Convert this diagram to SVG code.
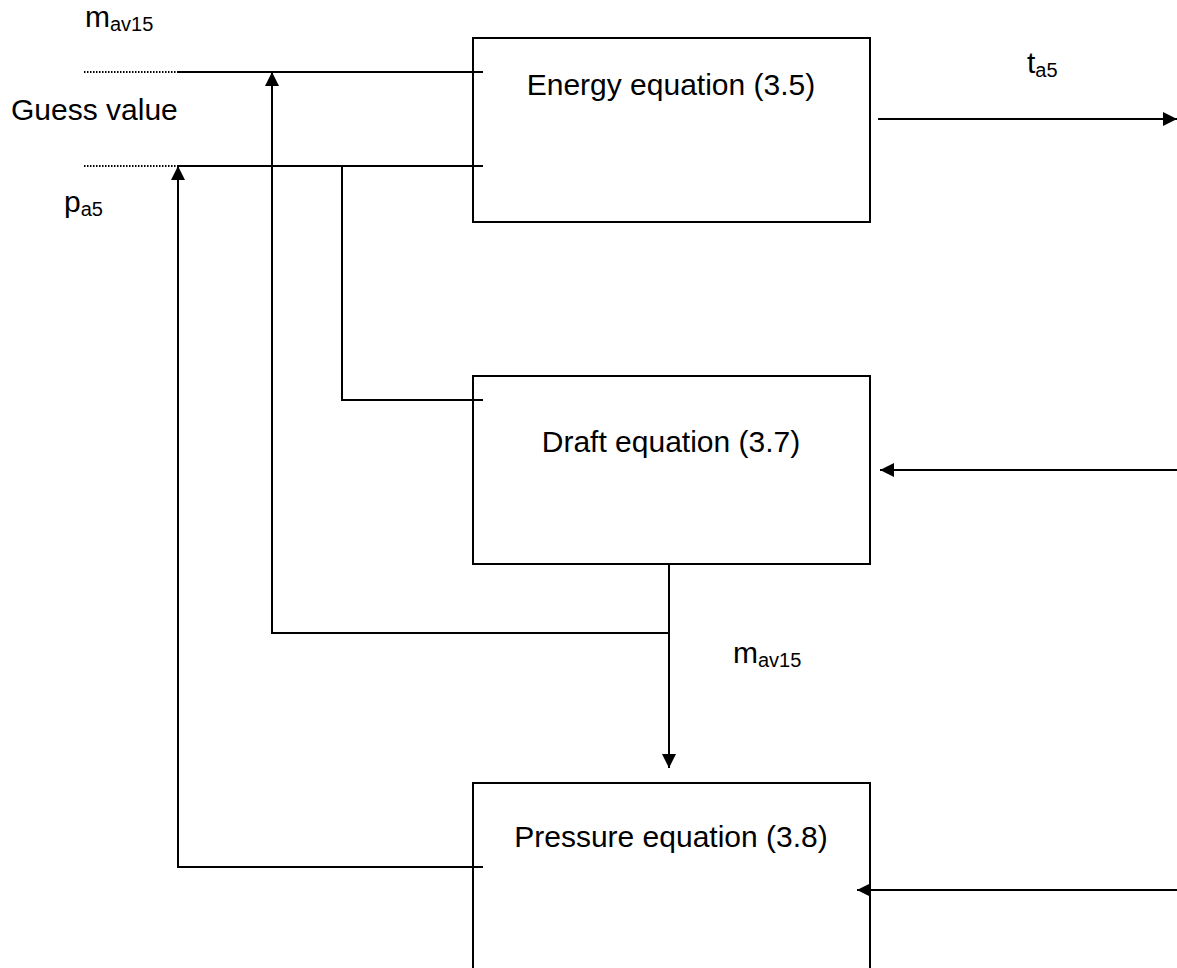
<svg xmlns="http://www.w3.org/2000/svg" width="1177" height="968" viewBox="0 0 1177 968">
<style>
.box{fill:#fff;stroke:#000;stroke-width:2}
.ln{fill:none;stroke:#000;stroke-width:2}
.dot{fill:none;stroke:#000;stroke-width:2;stroke-dasharray:1.5 1.5}
.t{font-family:"Liberation Sans",Arial,sans-serif;font-size:30px;fill:#000}
.c{text-anchor:middle}
.s{font-size:20px}
</style>
<defs>
<marker id="ah" markerUnits="userSpaceOnUse" markerWidth="16" markerHeight="16" viewBox="0 0 16 16" refX="15" refY="8" orient="auto">
<path d="M1 1 L15 8 L1 15 Z" fill="#000"/>
</marker>
</defs>
<rect width="1177" height="968" fill="#fff"/>
<g id="energy">
<rect class="box" x="473" y="38" width="397" height="184"/>
<text class="t c" x="671" y="95">Energy equation (3.5)</text>
</g>
<g id="draft">
<rect class="box" x="473" y="376" width="397" height="188"/>
<text class="t c" x="671" y="452">Draft equation (3.7)</text>
</g>
<g id="pressure">
<rect class="box" x="473" y="783" width="397" height="200"/>
<text class="t c" x="671" y="847">Pressure equation (3.8)</text>
</g>
<g id="labels">
<text class="t" x="85" y="27">m<tspan class="s" dy="4">av15</tspan></text>
<text class="t" x="11" y="120">Guess value</text>
<text class="t" x="64" y="212">p<tspan class="s" dy="4">a5</tspan></text>
<text class="t" x="1027" y="73">t<tspan class="s" dy="4">a5</tspan></text>
<text class="t" x="733" y="663">m<tspan class="s" dy="4">av15</tspan></text>
</g>
<g id="connectors">
<path class="dot" d="M84 72 H200"/>
<path class="dot" d="M84 166 H200"/>
<path class="ln" d="M178 72 H483"/>
<path class="ln" d="M178 166 H483"/>
<path class="ln" d="M342 166 V400 H483"/>
<path class="ln" d="M669 564 V768" marker-end="url(#ah)"/>
<path class="ln" d="M669 633 H272 V72" marker-end="url(#ah)"/>
<path class="ln" d="M483 867 H178 V166" marker-end="url(#ah)"/>
<path class="ln" d="M878 119 H1177" marker-end="url(#ah)"/>
<path class="ln" d="M1177 470 H880" marker-end="url(#ah)"/>
<path class="ln" d="M1177 890 H857" marker-end="url(#ah)"/>
</g>
</svg>
